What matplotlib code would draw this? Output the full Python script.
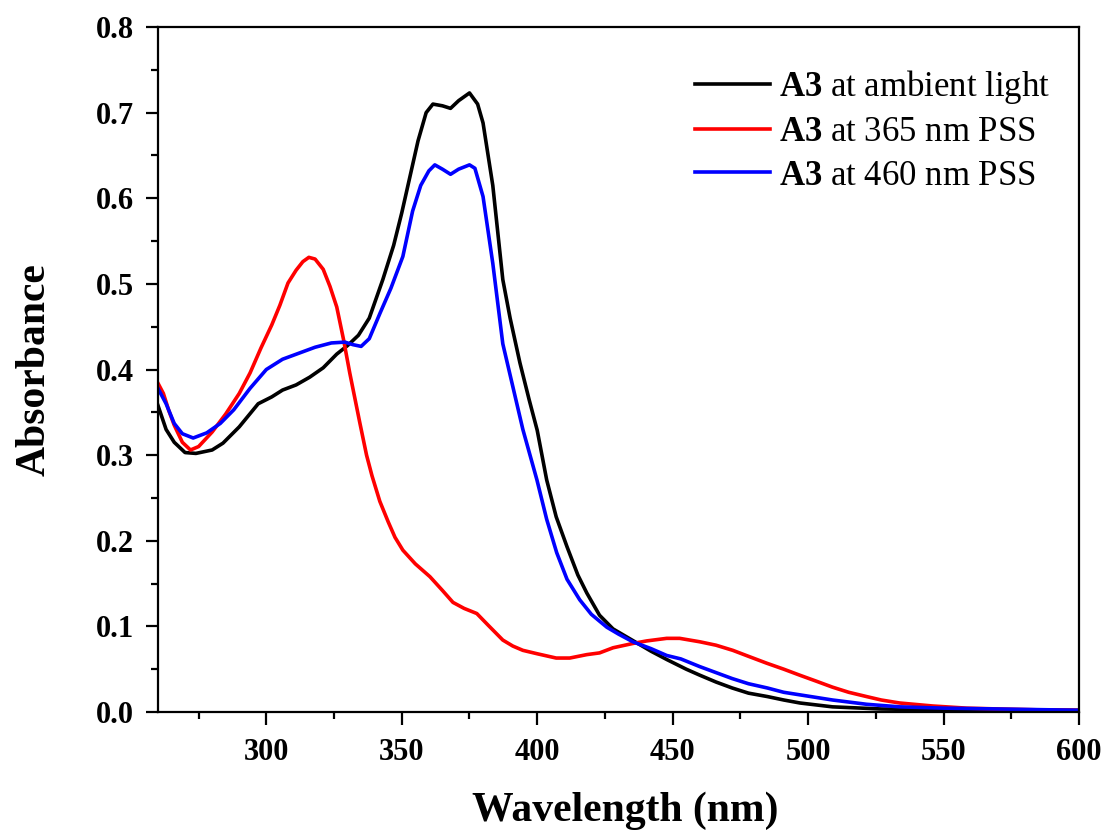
import matplotlib
matplotlib.use("Agg")
import matplotlib.pyplot as plt
from matplotlib.ticker import MultipleLocator

plt.rcParams["font.family"] = ["Liberation Serif", "DejaVu Serif"]
plt.rcParams["mathtext.fontset"] = "custom"
plt.rcParams["mathtext.rm"] = "Liberation Serif"
plt.rcParams["mathtext.bf"] = "Liberation Serif:bold"

# A3 at ambient light
wl_ambient = [260, 263, 266, 270, 274, 280, 284, 290, 297, 302, 306, 311, 316, 321,
              326, 330, 334, 338, 343, 347, 350, 353, 356, 359, 361.5, 365, 368,
              371, 375, 378, 380, 383.6, 387.3, 390, 393.6, 397, 400, 403.5, 407,
              411, 415, 418.3, 423, 428, 435, 442, 448, 455, 460, 466, 472, 478,
              485, 491, 497, 509, 527, 550, 600]
abs_ambient = [0.358, 0.330, 0.315, 0.303, 0.302, 0.306, 0.314, 0.333, 0.360, 0.368,
               0.376, 0.382, 0.391, 0.402, 0.418, 0.428, 0.440, 0.460, 0.505, 0.545,
               0.583, 0.625, 0.667, 0.700, 0.710, 0.708, 0.705, 0.714, 0.723, 0.710,
               0.688, 0.615, 0.505, 0.460, 0.408, 0.365, 0.329, 0.271, 0.228, 0.193,
               0.160, 0.139, 0.113, 0.097, 0.084, 0.071, 0.061, 0.050, 0.043, 0.035,
               0.028, 0.022, 0.018, 0.014, 0.0105, 0.006, 0.0035, 0.0025, 0.002]

# A3 at 365 nm PSS
wl_365 = [260, 262, 264, 266, 269, 272, 275, 280, 285, 290, 294, 298, 302, 305, 308,
          311, 313.5, 315.7, 318, 321, 323.5, 326, 328.5, 330.8, 334.5, 337, 339,
          341.9, 345, 347.5, 350.4, 355, 360.4, 365, 368.9, 373, 377.7, 382, 387.3,
          391, 394.7, 400, 407, 412, 418.3, 423, 428, 435.3, 440.4, 447.8, 452.6,
          460, 466, 472.2, 478, 484.7, 491, 496.9, 503, 509, 515, 521.6, 527, 533.8,
          546, 558.5, 570.7, 585, 600]
abs_365 = [0.384, 0.372, 0.352, 0.335, 0.315, 0.306, 0.310, 0.327, 0.348, 0.372,
           0.396, 0.425, 0.452, 0.475, 0.501, 0.516, 0.526, 0.531, 0.529, 0.517,
           0.497, 0.473, 0.435, 0.396, 0.338, 0.300, 0.276, 0.246, 0.222, 0.204,
           0.189, 0.173, 0.158, 0.142, 0.128, 0.121, 0.115, 0.101, 0.084, 0.077,
           0.072, 0.068, 0.063, 0.063, 0.067, 0.069, 0.075, 0.080, 0.083, 0.086,
           0.086, 0.082, 0.078, 0.072, 0.065, 0.057, 0.050, 0.043, 0.036, 0.029,
           0.023, 0.018, 0.014, 0.0105, 0.007, 0.0045, 0.0035, 0.0025, 0.002]

# A3 at 460 nm PSS
wl_460 = [260, 263, 266, 269, 273, 278, 283, 288, 294, 300, 306, 312, 318, 324, 329,
          332, 335, 338, 342, 346, 350.4, 354, 357, 360, 362.2, 365, 368, 371, 375,
          377, 380, 383.6, 387.3, 391, 394.7, 399.9, 403.5, 407.2, 411, 415.7, 420,
          425.7, 430, 435.3, 442, 447.8, 453, 460, 466, 472, 478, 485, 491, 497,
          509, 521.6, 533.8, 550, 570, 600]
abs_460 = [0.378, 0.360, 0.337, 0.325, 0.320, 0.326, 0.337, 0.353, 0.378, 0.400,
           0.412, 0.419, 0.426, 0.431, 0.432, 0.429, 0.427, 0.436, 0.466, 0.495,
           0.532, 0.585, 0.615, 0.632, 0.639, 0.634, 0.628, 0.634, 0.639, 0.635,
           0.602, 0.524, 0.430, 0.380, 0.330, 0.271, 0.225, 0.186, 0.155, 0.131,
           0.114, 0.099, 0.091, 0.082, 0.074, 0.066, 0.062, 0.053, 0.046, 0.039,
           0.033, 0.028, 0.023, 0.020, 0.014, 0.009, 0.006, 0.0045, 0.0035, 0.002]

labels = [r"$\mathbf{A3}$ at ambient light",
          r"$\mathbf{A3}$ at 365 nm PSS",
          r"$\mathbf{A3}$ at 460 nm PSS"]

fig = plt.figure(figsize=(11.07, 8.34), dpi=100)
ax = fig.add_axes([0.1427, 0.1463, 0.8320, 0.8213])

ax.plot(wl_ambient, abs_ambient, color="black", lw=2.6, label=labels[0])
ax.plot(wl_365, abs_365, color="red", lw=2.6, label=labels[1])
ax.plot(wl_460, abs_460, color="blue", lw=2.6, label=labels[2])

ax.set_xlim(260, 600)
ax.set_ylim(0, 0.8)
ax.xaxis.set_minor_locator(MultipleLocator(25))
ax.yaxis.set_major_locator(MultipleLocator(0.1))
ax.yaxis.set_minor_locator(MultipleLocator(0.05))
ax.set_xticks([300, 350, 400, 450, 500, 550, 600])
ax.yaxis.set_major_formatter(lambda v, p: f"{v:.1f}")

for s in ax.spines.values():
    s.set_linewidth(1.6)
ax.tick_params(which="major", direction="out", length=9, width=1.6,
               labelsize=22, top=False, right=False)
ax.tick_params(axis="x", which="major", pad=10)
ax.tick_params(axis="y", which="major", pad=8)
ax.tick_params(which="minor", direction="out", length=5, width=1.6,
               top=False, right=False)
for lab in ax.get_xticklabels() + ax.get_yticklabels():
    lab.set_fontweight("bold")

ax.set_xlabel("Wavelength (nm)", fontsize=30, fontweight="bold")
ax.xaxis.set_label_coords(0.5076, -0.116)
ax.set_ylabel("Absorbance", fontsize=30, fontweight="bold")
ax.yaxis.set_label_coords(-0.113, 0.5)

ax.legend(loc="upper left", bbox_to_anchor=(0.564, 0.966), frameon=False,
          fontsize=25, handlelength=2.16, handletextpad=0.26, labelspacing=0.30,
          borderpad=0)

fig.savefig("out.png", dpi=100)
